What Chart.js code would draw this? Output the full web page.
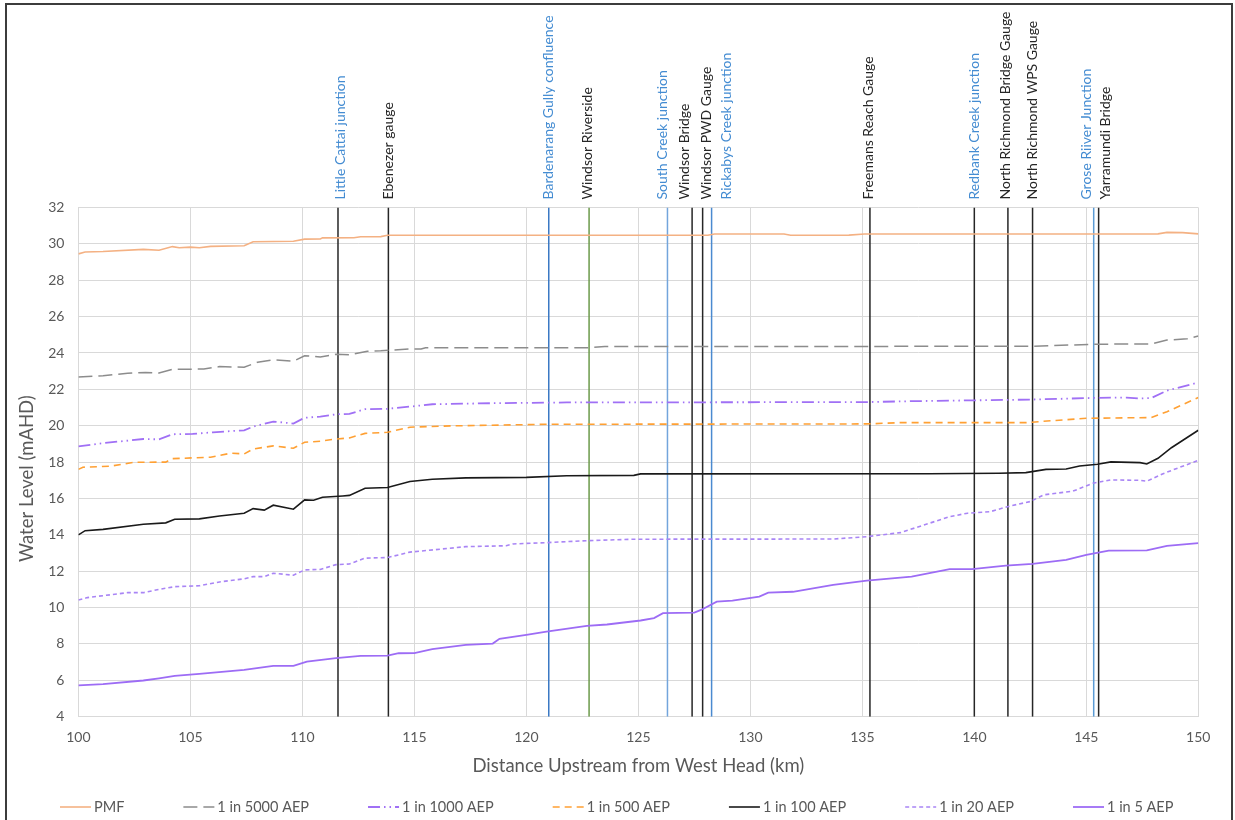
<!DOCTYPE html>
<html>
<head>
<meta charset="utf-8">
<title>Water level profile</title>
<script src="https://cdn.jsdelivr.net/npm/chart.js@4.4.1/dist/chart.umd.min.js"></script>
<style>
  html, body { margin: 0; padding: 0; background: #fff; }
  #wrap { position: relative; width: 1235px; height: 820px; overflow: hidden; background: #fff; }
  #frame { position: absolute; left: 5px; top: 3px; width: 1224px; height: 840px; border: 2px solid #3c3c3c; pointer-events: none; }
  canvas { position: absolute; left: 0; top: 0; }
</style>
</head>
<body>
<div id="wrap">
  <canvas id="level_chart" width="1235" height="820"></canvas>
  <div id="frame"></div>
</div>
<script>
/* Peak flood levels along the river, 100 - 150 km upstream of West Head */

// PMF
const pmfKm = [100, 100.3, 101.1, 102.9, 103.6, 104.2, 104.5, 105.0, 105.4, 105.9, 107.4, 107.8, 109.6, 110.1, 110.8, 110.9, 112.3, 112.6, 113.5, 113.8, 128.1, 128.4, 131.5, 131.8, 134.4, 135.1, 148.2, 148.6, 149.3, 150];
const pmfLevel = [29.45, 29.55, 29.58, 29.7, 29.65, 29.85, 29.79, 29.82, 29.79, 29.86, 29.9, 30.12, 30.14, 30.26, 30.27, 30.33, 30.34, 30.39, 30.4, 30.47, 30.47, 30.54, 30.54, 30.47, 30.48, 30.54, 30.55, 30.63, 30.62, 30.55];

// 1 in 5000 AEP
const aep5000Km = [100, 101.1, 102.2, 103.0, 103.6, 104.2, 105.6, 106.3, 107.4, 108.0, 108.7, 109.6, 110.1, 110.8, 111.5, 112.1, 112.9, 113.5, 114.8, 115.3, 115.5, 122.8, 123.5, 142.6, 145.3, 147.9, 148.6, 149.5, 150];
const aep5000Level = [22.68, 22.75, 22.88, 22.93, 22.9, 23.1, 23.12, 23.25, 23.22, 23.49, 23.62, 23.55, 23.85, 23.78, 23.93, 23.9, 24.1, 24.12, 24.22, 24.22, 24.29, 24.29, 24.35, 24.37, 24.48, 24.5, 24.71, 24.78, 24.93];

// 1 in 1000 AEP
const aep1000Km = [100, 101.1, 102.9, 103.6, 104.2, 105.1, 106.0, 107.4, 107.8, 108.7, 109.6, 110.1, 110.8, 111.5, 112.1, 112.8, 113.8, 114.8, 115.8, 118.5, 121.8, 135.2, 137.2, 142.6, 143.8, 145.3, 146.8, 147.4, 147.9, 148.6, 150];
const aep1000Level = [18.87, 19.04, 19.27, 19.25, 19.53, 19.55, 19.64, 19.75, 19.95, 20.23, 20.12, 20.44, 20.5, 20.63, 20.65, 20.91, 20.93, 21.05, 21.18, 21.24, 21.28, 21.3, 21.35, 21.44, 21.48, 21.53, 21.55, 21.5, 21.52, 21.93, 22.38];

// 1 in 500 AEP
const aep500Km = [100, 100.2, 101.4, 102.5, 103.9, 104.2, 105.9, 106.8, 107.4, 107.8, 108.7, 109.6, 110.1, 110.8, 111.5, 112.1, 112.8, 113.8, 114.8, 116.6, 120.9, 135.2, 136.7, 142.3, 143.5, 145.0, 147.9, 148.6, 150];
const aep500Level = [17.6, 17.72, 17.77, 17.99, 18.0, 18.19, 18.27, 18.49, 18.45, 18.72, 18.89, 18.76, 19.09, 19.15, 19.27, 19.33, 19.58, 19.64, 19.92, 19.99, 20.08, 20.1, 20.17, 20.17, 20.28, 20.41, 20.45, 20.77, 21.55];

// 1 in 100 AEP
const aep100Km = [100, 100.3, 101.1, 102.9, 103.9, 104.3, 105.4, 106.3, 107.4, 107.8, 108.3, 108.7, 109.6, 110.1, 110.5, 110.9, 111.8, 112.1, 112.8, 113.8, 114.8, 115.8, 117.3, 120.0, 121.8, 124.8, 125.1, 138.0, 141.1, 142.3, 143.2, 144.1, 144.7, 145.5, 146.1, 147.4, 147.7, 148.2, 148.8, 150];
const aep100Level = [14.0, 14.23, 14.3, 14.58, 14.66, 14.86, 14.88, 15.04, 15.19, 15.44, 15.36, 15.63, 15.41, 15.92, 15.9, 16.07, 16.14, 16.17, 16.56, 16.6, 16.93, 17.06, 17.13, 17.16, 17.25, 17.27, 17.35, 17.36, 17.39, 17.42, 17.6, 17.62, 17.79, 17.88, 18.01, 17.97, 17.9, 18.21, 18.79, 19.75];

// 1 in 20 AEP
const aep20Km = [100, 100.4, 102.2, 102.9, 103.6, 104.3, 105.4, 106.3, 107.4, 107.8, 108.3, 108.7, 109.6, 110.1, 110.8, 111.5, 112.1, 112.8, 113.8, 114.8, 117.3, 119.1, 119.4, 120.9, 122.7, 124.8, 133.7, 135.2, 136.7, 138.9, 139.7, 140.7, 141.6, 142.5, 143.1, 144.4, 145.3, 146.1, 147.4, 147.7, 148.4, 150];
const aep20Level = [10.42, 10.55, 10.82, 10.82, 11.0, 11.15, 11.2, 11.41, 11.58, 11.7, 11.7, 11.89, 11.78, 12.07, 12.1, 12.36, 12.4, 12.72, 12.75, 13.05, 13.35, 13.4, 13.5, 13.57, 13.68, 13.76, 13.77, 13.9, 14.12, 15.0, 15.19, 15.27, 15.59, 15.83, 16.2, 16.4, 16.84, 17.02, 17.0, 16.95, 17.35, 18.1];

// 1 in 5 AEP
const aep5Km = [100, 101.1, 102.9, 103.6, 104.3, 105.4, 107.4, 108.7, 109.6, 110.2, 111.5, 112.6, 113.8, 114.3, 115.0, 115.8, 117.3, 118.5, 118.8, 120.0, 120.9, 122.7, 123.6, 125.1, 125.7, 126.1, 127.5, 127.8, 128.5, 129.2, 130.4, 130.8, 131.9, 133.7, 135.2, 137.2, 138.9, 139.9, 141.4, 142.6, 144.1, 145.0, 146.0, 147.7, 148.6, 150];
const aep5Level = [5.72, 5.79, 5.99, 6.11, 6.24, 6.35, 6.57, 6.79, 6.8, 7.03, 7.22, 7.34, 7.36, 7.49, 7.5, 7.71, 7.95, 8.02, 8.28, 8.5, 8.68, 9.0, 9.07, 9.29, 9.42, 9.69, 9.72, 9.87, 10.33, 10.38, 10.6, 10.82, 10.87, 11.25, 11.48, 11.7, 12.11, 12.12, 12.31, 12.4, 12.62, 12.9, 13.13, 13.15, 13.39, 13.54];

// Locations along the river (vertical marker lines)
const markerNames = ['Little Cattai junction', 'Ebenezer gauge', 'Bardenarang Gully confluence', 'Windsor Riverside',
    'South Creek junction', 'Windsor Bridge', 'Windsor PWD Gauge', 'Rickabys Creek junction', 'Freemans Reach Gauge',
    'Redbank Creek junction', 'North Richmond Bridge Gauge', 'North Richmond WPS Gauge', 'Grose Riiver Junction', 'Yarramundi Bridge'];
const markerKm = [111.59, 113.84, 121.0, 122.8, 126.3, 127.4, 127.87, 128.27, 135.34, 140.0, 141.5, 142.6, 145.33, 145.55];
const markerIsJunction = [true, false, true, false, true, false, false, true, false, true, false, false, true, false];

// Axis ranges and ticks
const xMin = 100, xMax = 150, xStep = 5;
const yMin = 4, yMax = 32, yStep = 2;

// Styles (kept apart from the data)
const markerLineColour = ['#262626', '#262626', '#3a78c4', '#6b9a4b', '#73a5dc', '#262626', '#262626', '#4a8ad0',
    '#262626', '#262626', '#262626', '#262626', '#5b9bd5', '#262626'];
const markerLabelShift = [2, 0, 0, -2, -5, -8, 4, 15, -1, 0, -2, 0, -7, 7];
const textGrey = '#595959';
// trailing blanks nudge the rotated y title a little below the middle, as in the original
const yTitlePad = '\u00a0'.repeat(7);

function toPoints(km, level) {
    return km.map((k, i) => ({x: k, y: level[i]}));
}

const seriesDatasets = [
    {label: 'PMF', data: toPoints(pmfKm, pmfLevel), borderColor: '#f4b183', borderWidth: 1.6},
    {label: '1 in 5000 AEP', data: toPoints(aep5000Km, aep5000Level), borderColor: '#8c8c8c', borderWidth: 1.5, borderDash: [14, 6]},
    {label: '1 in 1000 AEP', data: toPoints(aep1000Km, aep1000Level), borderColor: '#a070f5', borderWidth: 1.8, borderDash: [12, 4, 1.5, 4, 1.5, 4]},
    {label: '1 in 500 AEP', data: toPoints(aep500Km, aep500Level), borderColor: '#ffa033', borderWidth: 1.6, borderDash: [7, 5]},
    {label: '1 in 100 AEP', data: toPoints(aep100Km, aep100Level), borderColor: '#1a1a1a', borderWidth: 1.6},
    {label: '1 in 20 AEP', data: toPoints(aep20Km, aep20Level), borderColor: '#a985f5', borderWidth: 1.6, borderDash: [4, 3]},
    {label: '1 in 5 AEP', data: toPoints(aep5Km, aep5Level), borderColor: '#9d6cf5', borderWidth: 1.8},
];

const markerDatasets = markerNames.map((name, i) => ({
    label: name,
    data: [{x: markerKm[i], y: yMin}, {x: markerKm[i], y: yMax}],
    borderColor: markerLineColour[i],
    borderWidth: 1.5,
}));

// Rotated location names above the plot
const markerLabels = {
    id: 'markerLabels',
    afterDraw(chart) {
        const ctx = chart.ctx;
        const xs = chart.scales.x;
        ctx.save();
        ctx.font = '14px Lato';
        ctx.textAlign = 'left';
        ctx.textBaseline = 'middle';
        markerNames.forEach((name, i) => {
            ctx.save();
            ctx.translate(xs.getPixelForValue(markerKm[i]) + markerLabelShift[i], chart.chartArea.top - 8);
            ctx.rotate(-Math.PI / 2);
            ctx.fillStyle = markerIsJunction[i] ? '#448cd2' : '#262626';
            ctx.fillText(name, 0, 0);
            ctx.restore();
        });
        ctx.restore();
    }
};

// Legend row along the bottom, drawn from the series datasets
const bottomLegend = {
    id: 'bottomLegend',
    afterDraw(chart) {
        const ctx = chart.ctx;
        const y = 807;
        let x = 60;
        ctx.save();
        ctx.font = '14.5px Lato';
        ctx.textBaseline = 'middle';
        ctx.textAlign = 'left';
        seriesDatasets.forEach((ds) => {
            ctx.strokeStyle = ds.borderColor;
            ctx.lineWidth = ds.borderWidth;
            ctx.setLineDash(ds.borderDash || []);
            ctx.beginPath();
            ctx.moveTo(x, y);
            ctx.lineTo(x + 31, y);
            ctx.stroke();
            ctx.setLineDash([]);
            ctx.fillStyle = textGrey;
            ctx.fillText(ds.label, x + 34, y);
            x += 34 + ctx.measureText(ds.label).width + 59;
        });
        ctx.restore();
    }
};

const level_canvas = document.getElementById('level_chart');

const level_config = {
    type: 'line',
    data: {datasets: seriesDatasets.concat(markerDatasets)},
    options: {
        responsive: false,
        animation: false,
        devicePixelRatio: 1,
        layout: {padding: {top: 207.5, right: 36.7, bottom: 33.3, left: 0}},
        elements: {
            point: {radius: 0, hoverRadius: 0},
            line: {tension: 0, fill: false}
        },
        plugins: {
            legend: {display: false},
            tooltip: {enabled: false}
        },
        scales: {
            x: {
                type: 'linear',
                min: xMin,
                max: xMax,
                afterFit: (scale) => { scale.height = 70; },
                ticks: {stepSize: xStep, color: textGrey, font: {family: 'Lato', size: 14}, padding: 12, maxRotation: 0},
                grid: {color: '#d9d9d9', drawTicks: false},
                border: {color: '#d9d9d9'},
                title: {display: true, text: 'Distance Upstream from West Head (km)', color: textGrey,
                    font: {family: 'Lato', size: 18.5}, padding: {top: 0, bottom: 10}}
            },
            y: {
                min: yMin,
                max: yMax,
                afterFit: (scale) => { scale.width = 78.4; },
                ticks: {stepSize: yStep, color: textGrey, font: {family: 'Lato', size: 14}, padding: 14},
                grid: {color: '#d9d9d9', drawTicks: false},
                border: {color: '#d9d9d9'},
                title: {display: true, text: 'Water Level (mAHD)' + yTitlePad, color: textGrey,
                    font: {family: 'Lato', size: 18.5}, padding: {top: 16, bottom: 0}}
            }
        }
    },
    plugins: [markerLabels, bottomLegend]
};

const levelChart = new Chart(level_canvas, level_config);
</script>
</body>
</html>
